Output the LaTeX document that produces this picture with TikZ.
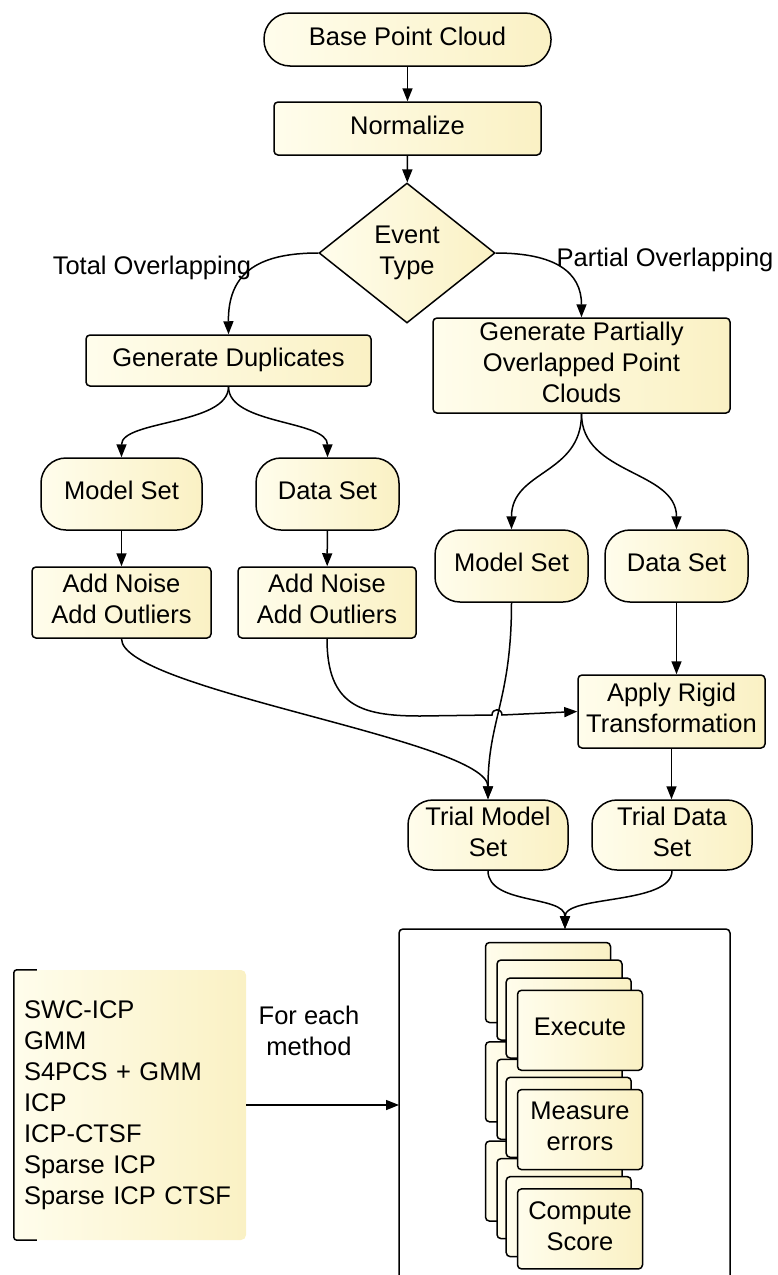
\documentclass[tikz,border=0pt]{standalone}
\usepackage{fontspec}
\setmainfont{Liberation Sans}
\usetikzlibrary{shapes.geometric,arrows.meta,backgrounds,calc}
\definecolor{fl}{RGB}{255,253,236}
\definecolor{fr}{RGB}{250,241,196}
\newcommand\labfont{\fontsize{25.5}{31}\selectfont}
\tikzset{
 base/.style={draw=black, line width=1.5pt, left color=fl, right color=fr, font=\labfont, align=center, inner sep=0pt},
 lift/.style={execute at end node={\rule[-6.5pt]{0pt}{6.5pt}}},
 rbox/.style={base, lift, rectangle, rounded corners=4pt},
 pill/.style={base, lift, rectangle, rounded corners=25pt},
 dia/.style={base, diamond, aspect=1.25},
 card/.style={rbox, minimum width=125pt, minimum height=80pt},
 conn/.style={line width=1.5pt, -{Triangle[length=13pt,width=10pt]}},
 plain/.style={font=\labfont, align=center, inner sep=0pt},
 methods/.style={left color=fl, right color=fr, rounded corners=5pt, minimum width=232pt, minimum height=270pt, text width=212pt, align=left, font=\labfont, inner sep=0pt},
}
\begin{document}
\begin{tikzpicture}[x=1pt,y=-1pt]
\useasboundingbox (0,0) rectangle (778,1275);
% main flow
\node[pill, rounded corners=26pt, minimum width=287pt, minimum height=53pt] (base) at (407.5,39.5) {Base Point Cloud};
\node[rbox, minimum width=267pt, minimum height=53pt] (norm) at (407.5,128.5) {Normalize};
\node[dia, minimum width=176pt, minimum height=140pt] (ev) at (407,253) {Event\\Type};
\node[plain] (tot) at (152,268) {Total Overlapping};
\node[plain] (par) at (665,260) {Partial Overlapping};
\node[rbox, minimum width=285pt, minimum height=51pt] (gd) at (228.5,360.5) {Generate Duplicates};
\node[rbox, minimum width=297pt, minimum height=95pt] (gp) at (581.5,365.5) {Generate Partially\\Overlapped Point\\Clouds};
\node[pill, minimum width=161pt, minimum height=72pt] (ms1) at (121.5,494) {Model Set};
\node[pill, minimum width=143pt, minimum height=72pt] (ds1) at (327.5,494) {Data Set};
\node[rbox, minimum width=179pt, minimum height=71pt] (an1) at (121.5,602.5) {Add Noise\\Add Outliers};
\node[rbox, minimum width=178pt, minimum height=71pt] (an2) at (327,602.5) {Add Noise\\Add Outliers};
\node[pill, minimum width=153pt, minimum height=72pt] (ms2) at (511.5,566) {Model Set};
\node[pill, minimum width=143pt, minimum height=72pt] (ds2) at (676.5,566) {Data Set};
\node[rbox, minimum width=187pt, minimum height=73pt] (rig) at (671.5,711.5) {Apply Rigid\\Transformation};
\node[pill, minimum width=160pt, minimum height=70pt] (tms) at (488,835) {Trial Model\\Set};
\node[pill, minimum width=160pt, minimum height=70pt] (tds) at (672,835) {Trial Data\\Set};

% connectors
\draw[conn] (base) -- (norm);
\draw[conn] (norm) -- (ev);
\draw[conn] (ev.west) .. controls (255,253) and (228,275) .. (gd.north);
\draw[conn] (ev.east) .. controls (555,253) and (581.5,272) .. (gp.north);
\draw[conn] (gd.south) .. controls (228.5,425) and (121.5,420) .. (ms1.north);
\draw[conn] (gd.south) .. controls (228.5,425) and (327.5,420) .. (ds1.north);
\draw[conn] (ms1) -- (an1);
\draw[conn] (ds1) -- (an2);
\draw[conn] (gp.south) .. controls (581.5,475) and (511.5,470) .. (ms2.north);
\draw[conn] (gp.south) .. controls (581.5,475) and (676.5,470) .. (ds2.north);
\draw[conn] (ds2.south) -- (ds2.south |- rig.north);
\draw[conn] (rig.south) -- (rig.south |- tds.north);
\draw[conn] (ms2.south) .. controls (511.5,700) and (488,720) .. (tms.north);
\draw[conn] (an1.south) .. controls (121.5,690) and (488,740) .. (tms.north);
\draw[conn] (an2.south) .. controls (327,705) and (360,716) .. (420,716) -- (492,715) .. controls (492,708) and (502,708) .. (502,715) -- (rig.west);

% evaluation box
\coordinate (bt) at (565,929);
\coordinate (bl) at (399,1105);
\draw[line width=1.5pt, rounded corners=4pt] (399,1290) -- (399,929) -- (730,929) -- (730,1290);
\draw[conn] (tms.south) .. controls (488,905) and (565,895) .. (bt);
\draw[conn] (tds.south) .. controls (672,905) and (565,895) .. (bt);

% stacked cards (group 3 at back)
\node[card] (c2a) at (548,1181.1) {};
\node[card] (c2b) at (559.5,1198.6) {};
\node[card] (c2c) at (568.7,1216.6) {};
\node[card] (c2d) at (580,1228.9) {Compute\\Score};
\node[card] (c1a) at (548,1081.8) {};
\node[card] (c1b) at (559.5,1099.3) {};
\node[card] (c1c) at (568.7,1117.3) {};
\node[card] (c1d) at (580,1129.6) {Measure\\errors};
\node[card] (c0a) at (548,982.5) {};
\node[card] (c0b) at (559.5,1000) {};
\node[card] (c0c) at (568.7,1018) {};
\node[card] (c0d) at (580,1030.3) {Execute};
\begin{pgfonlayer}{background}
\draw[conn] (c0c.south) -- (c1c.north);
\draw[conn] (c1c.south) -- (c2c.north);
\end{pgfonlayer}

% methods list
\node[methods] (m) at (130,1105) {SWC-ICP\\GMM\\S4PCS + GMM\\ICP\\ICP-CTSF\\Sparse ICP\\Sparse ICP CTSF};
\draw[line width=1.5pt, rounded corners=3pt] ($(m.north west)+(23,0)$) -- (m.north west) -- (m.south west) -- ($(m.south west)+(23,0)$);
\node[plain] (fe) at (309,1031) {For each\\method};
\draw[conn] (m.east) -- (bl);
\end{tikzpicture}
\end{document}
